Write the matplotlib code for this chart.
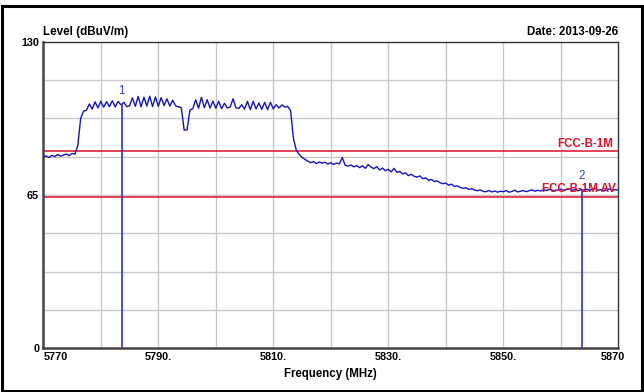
import numpy as np
import matplotlib
matplotlib.use("Agg")
import matplotlib.pyplot as plt
from matplotlib.patches import Rectangle
from matplotlib.transforms import ScaledTranslation

# 频率轴 5770-5870 MHz，0.5 MHz 步进
freq = np.arange(5770.0, 5870.01, 0.5)
level = [
    81.0, 81.6, 80.9, 81.8, 81.3, 82.2, 81.5, 81.9, 82.4, 81.7,
    82.6, 82.3, 86.0, 97.5, 100.6, 100.9, 103.6, 101.4, 104.5, 101.9,
    104.8, 102.2, 104.6, 102.4, 105.0, 102.3, 104.7, 103.2, 104.3, 102.5,
    102.8, 106.2, 102.6, 106.8, 102.4, 106.5, 102.7, 106.9, 102.5, 106.6,
    102.6, 106.3, 102.9, 105.8, 102.7, 105.2, 102.8, 102.4, 102.0, 92.5,
    92.6, 101.0, 101.6, 105.4, 101.8, 106.4, 102.0, 105.4, 101.9, 104.8,
    101.8, 104.7, 101.6, 103.9, 101.9, 102.3, 105.8, 102.0, 101.7, 103.3,
    101.4, 104.7, 101.2, 104.7, 101.5, 104.0, 101.3, 104.3, 101.2, 104.3,
    101.5, 103.3, 101.9, 103.2, 102.3, 102.6, 100.8, 89.0, 84.0, 82.2,
    81.0, 80.1, 79.4, 78.7, 79.2, 78.3, 79.0, 78.5, 78.9, 78.1,
    78.7, 77.9, 78.6, 78.2, 80.9, 77.6, 77.2, 77.8, 76.9, 77.5,
    76.6, 77.4, 76.3, 77.9, 76.8, 76.2, 77.0, 75.6, 76.4, 75.3,
    75.9, 74.8, 76.3, 74.6, 75.0, 73.9, 74.4, 73.2, 73.8, 72.9,
    72.6, 73.1, 71.9, 72.3, 71.2, 71.6, 70.7, 71.0, 70.2, 69.8,
    70.0, 69.2, 69.6, 68.6, 68.9, 68.2, 67.8, 68.1, 67.4, 67.7,
    67.1, 66.8, 67.2, 66.5, 66.4, 66.9, 66.3, 66.7, 66.2, 66.6,
    66.4, 66.9, 66.2, 66.5, 67.0, 66.3, 66.6, 66.9, 66.4, 66.8,
    67.2, 66.6, 67.0, 66.7, 67.3, 66.9, 67.4, 67.0, 66.8, 67.2,
    67.5, 66.9, 67.3, 67.6, 67.0, 67.4, 66.8, 67.3, 67.1, 67.5,
    66.9, 67.4, 67.8, 67.0, 67.3, 66.7, 67.2, 67.6, 66.9, 67.3,
    67.1,
]

# 限值线
limit_names = ["FCC-B-1M", "FCC-B-1M AV"]
limit_levels = [83.5, 64.0]

# 标记点
marker_names = ["1", "2"]
marker_freq = [5783.6, 5863.7]
marker_level = [103.2, 67.1]

xtick_vals = [5770, 5790, 5810, 5830, 5850, 5870]
xtick_labels = ["5770", "5790.", "5810.", "5830.", "5850.", "5870"]
ytick_vals = [0, 65, 130]

plt.rcParams['font.family'] = ['Liberation Sans', 'DejaVu Sans']

fig = plt.figure(figsize=(6.44, 3.92), dpi=100)
ax = fig.add_axes([43.3 / 644, 43.7 / 392, 575 / 644, 306.6 / 392])

# 外框
fig.patches.append(Rectangle((1.5 / 644, 1.5 / 392), 640.5 / 644, 385 / 392,
                             transform=fig.transFigure, fill=False,
                             edgecolor='black', linewidth=2.2))

ax.set_xlim(5770, 5870)
ax.set_ylim(0, 130)

# 网格
for g in np.arange(5780, 5870, 10):
    ax.axvline(g, color='#c8c8c8', linewidth=1.0, zorder=0)
for g in np.linspace(0, 130, 9)[1:-1]:
    ax.axhline(g, color='#c8c8c8', linewidth=1.0, zorder=0)

# 限值线
for name, lv in zip(limit_names, limit_levels):
    ax.axhline(lv, color='#e0102a', linewidth=1.1, zorder=2)
ax.text(5869.1, limit_levels[0] + 3.3, limit_names[0], color='#e0102a',
        fontsize=8.3, fontweight='bold', ha='right', va='center', zorder=5)
ax.text(5869.6, limit_levels[1] + 3.4, limit_names[1], color='#e0102a',
        fontsize=8.3, fontweight='bold', ha='right', va='center', zorder=5)

# 曲线
ax.plot(freq, level, color='#1414c4', linewidth=1.0, zorder=3)

# 标记
for name, mf, ml in zip(marker_names, marker_freq, marker_level):
    ax.plot([mf, mf], [0, ml], color='#3030d0', linewidth=1.2, zorder=4)
    ax.text(mf, ml + 6.0, name, color='#3040cc', fontsize=8.3,
            ha='center', va='center', zorder=5)

# 坐标轴
for side in ['top', 'right']:
    ax.spines[side].set_color('#333333')
    ax.spines[side].set_linewidth(1.0)
for side in ['left', 'bottom']:
    ax.spines[side].set_color('#444444')
    ax.spines[side].set_linewidth(1.8)

ax.set_xticks(xtick_vals)
ax.set_xticklabels(xtick_labels, fontsize=7.8, fontweight='bold')
ax.set_yticks(ytick_vals)
ax.set_yticklabels([str(v) for v in ytick_vals], fontsize=7.8, fontweight='bold')
ax.tick_params(length=0, pad=3)
xl = ax.get_xticklabels()
xl[0].set_horizontalalignment('left')
xl[-1].set_transform(xl[-1].get_transform() +
                     ScaledTranslation(-5 / 100, 0, fig.dpi_scale_trans))

ax.set_xlabel("Frequency (MHz)", fontsize=8.3, fontweight='bold', labelpad=4)
fig.text(43 / 644, 1 - 31.7 / 392, "Level (dBuV/m)", fontsize=8.4,
         fontweight='bold', ha='left', va='center')
fig.text(618 / 644, 1 - 31.7 / 392, "Date: 2013-09-26", fontsize=8.3,
         fontweight='bold', ha='right', va='center')

fig.savefig("out.png", dpi=100)
